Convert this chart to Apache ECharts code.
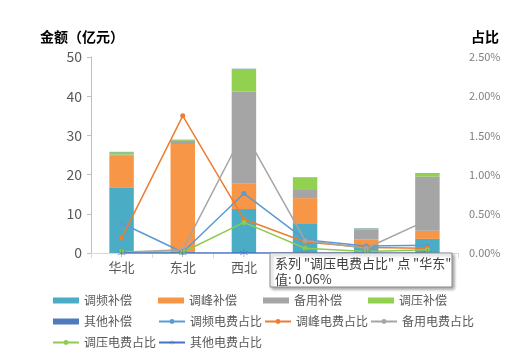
<!DOCTYPE html>
<html>
<head>
<meta charset="utf-8">
<script src="https://cdn.jsdelivr.net/npm/echarts@6/dist/echarts.min.js"></script>
<style>
  html, body { margin: 0; padding: 0; background: #fff; }
  #chart { width: 526px; height: 359px; }
</style>
</head>
<body>
<div id="chart"></div>
<script>
// 区域
const regions = ['华北', '东北', '西北', '华东', '华中', '南方']

// 补偿金额（亿元）
const tiaopinAmt = [16.6, 0.2, 11.2, 7.4, 1.8, 3.6]
const tiaofengAmt = [8.2, 27.6, 6.6, 6.6, 1.7, 2.1]
const beiyongAmt = [0.3, 0.8, 23.4, 2.3, 2.4, 13.8]
const tiaoyaAmt = [0.6, 0.2, 5.7, 2.9, 0.3, 0.8]
const qitaAmt = [0.1, 0.1, 0.1, 0.1, 0.1, 0.1]

// 电费占比（%）
const tiaopinPct = [0.38, 0.01, 0.76, 0.17, 0.09, 0.10]
const tiaofengPct = [0.19, 1.75, 0.43, 0.14, 0.07, 0.06]
const beiyongPct = [0.01, 0.04, 1.55, 0.16, 0.06, 0.42]
const tiaoyaPct = [0.02, 0.01, 0.39, 0.06, 0.02, 0.04]
const qitaPct = [0.00, 0.00, 0.00, 0.00, 0.00, 0.00]

const font = '"Noto Sans CJK SC", "Microsoft YaHei", sans-serif'
const starPath = 'path://M9.5,0L10.5,0L10.5,8.3L17.7,4.1L18.2,5L11,9.1L18.2,13.3L17.7,14.2L10.5,10L10.5,18.3L9.5,18.3L9.5,10L2.3,14.2L1.8,13.3L9,9.1L1.8,5L2.3,4.1L9.5,8.3Z'

const chart = echarts.init(document.getElementById('chart'))

function barSeries (name, data, color) {
  return {
    name: name,
    type: 'bar',
    stack: 'amount',
    barWidth: '40%',
    data: data,
    itemStyle: { color: color },
    emphasis: { disabled: true }
  }
}

function lineSeries (name, data, color, symbol) {
  return {
    name: name,
    type: 'line',
    yAxisIndex: 1,
    data: data,
    symbol: symbol || 'circle',
    symbolSize: symbol ? 8 : 5,
    lineStyle: { color: color, width: 1.5 },
    itemStyle: { color: color },
    emphasis: { disabled: true },
    z: 3
  }
}

const legendNames = ['调频补偿', '调峰补偿', '备用补偿', '调压补偿', '其他补偿',
  '调频电费占比', '调峰电费占比', '备用电费占比', '调压电费占比', '其他电费占比']

const option = {
  animation: false,
  textStyle: { fontFamily: font },
  grid: { left: 91, right: 68, top: 57, bottom: 106 },
  legend: {
    left: 47,
    top: 285,
    width: 430,
    itemGap: 0,
    itemWidth: 26,
    itemHeight: 6,
    textStyle: { color: '#595959', fontSize: 12, width: 74, height: 21, lineHeight: 21 },
    data: legendNames.map((n, i) => i < 5 ? { name: n, icon: 'rect' } : n)
  },
  xAxis: {
    type: 'category',
    data: regions,
    axisLine: { lineStyle: { color: '#D9D9D9' } },
    axisTick: { show: true, length: 5, lineStyle: { color: '#D9D9D9' } },
    axisLabel: { color: '#595959', fontSize: 13, margin: 8 }
  },
  yAxis: [
    {
      type: 'value',
      min: 0,
      max: 50,
      interval: 10,
      axisLine: { show: true, lineStyle: { color: '#BFBFBF' } },
      axisTick: { show: true, length: 4, lineStyle: { color: '#BFBFBF' } },
      axisLabel: { color: '#595959', fontSize: 14, margin: 9 },
      splitLine: { show: false }
    },
    {
      type: 'value',
      min: 0,
      max: 2.5,
      interval: 0.5,
      axisLine: { show: false },
      axisTick: { show: false },
      axisLabel: {
        color: '#7F7F7F',
        fontSize: 11,
        margin: 11,
        formatter: v => v.toFixed(2) + '%'
      },
      splitLine: { show: false }
    }
  ],
  graphic: [
    {
      type: 'text',
      left: 40,
      top: 30,
      style: { text: '金额（亿元）', font: 'bold 14px ' + font, fill: '#000' }
    },
    {
      type: 'text',
      left: 471,
      top: 30,
      style: { text: '占比', font: 'bold 14px ' + font, fill: '#000' }
    },
    // 悬停提示框
    {
      type: 'rect',
      z: 100,
      shape: { x: 270, y: 253, width: 182, height: 34 },
      style: {
        fill: '#fff',
        stroke: '#8C8C8C',
        lineWidth: 1,
        shadowBlur: 3,
        shadowOffsetX: 2,
        shadowOffsetY: 2,
        shadowColor: 'rgba(0,0,0,0.35)'
      }
    },
    {
      type: 'text',
      z: 101,
      x: 275,
      y: 255,
      style: {
        text: '系列 "调压电费占比" 点 "华东"\n值: 0.06%',
        font: '13px ' + font,
        lineHeight: 16,
        fill: '#404040'
      }
    }
  ],
  series: [
    barSeries('调频补偿', tiaopinAmt, '#4BACC6'),
    barSeries('调峰补偿', tiaofengAmt, '#F79646'),
    barSeries('备用补偿', beiyongAmt, '#A5A5A5'),
    barSeries('调压补偿', tiaoyaAmt, '#92D050'),
    barSeries('其他补偿', qitaAmt, '#4F7BBE'),
    lineSeries('调频电费占比', tiaopinPct, '#5B9BD5'),
    lineSeries('调峰电费占比', tiaofengPct, '#ED7D31'),
    lineSeries('备用电费占比', beiyongPct, '#A5A5A5'),
    lineSeries('调压电费占比', tiaoyaPct, '#8CCB4F'),
    lineSeries('其他电费占比', qitaPct, '#4472C4', starPath)
  ]
}

chart.setOption(option)
</script>
</body>
</html>
